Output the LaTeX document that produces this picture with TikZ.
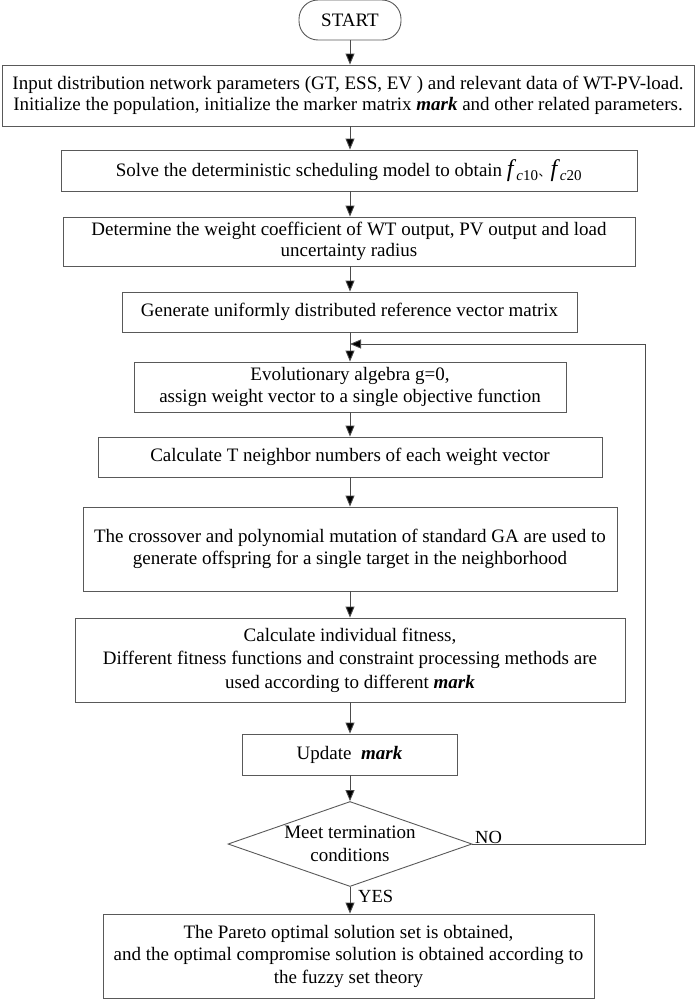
\documentclass[tikz,border=0pt]{standalone}
\usepackage{fontspec}
\setmainfont{Liberation Serif}
\newfontfamily\cjk{Noto Sans CJK SC}
\usetikzlibrary{arrows.meta,shapes.geometric}
\begin{document}
\begin{tikzpicture}[x=1pt,y=-1pt,
  every node/.style={font=\fontsize{19}{22.5}\selectfont},
  box/.style={draw=black!65, line width=0.9pt, rectangle, inner sep=0pt, align=center, anchor=center},
  stadium/.style={draw=black!65, line width=0.9pt, rectangle, rounded corners=19pt, inner sep=0pt, minimum width=102pt, minimum height=40pt},
  decision/.style={draw=black!65, line width=0.9pt, diamond, shape aspect=2.87, inner sep=0pt, minimum width=244pt, minimum height=85pt, align=center},
  flow/.style={draw=black!70, line width=0.9pt, -{Triangle[length=11pt,width=9pt,fill=black]}},
  lab/.style={font=\fontsize{18.5}{20}\selectfont, inner sep=0pt}
]
\useasboundingbox (0,0) rectangle (699,999);
\newcommand{\mk}{\textbf{\textit{mark}}}
\newcommand{\fc}[1]{\textit{\fontsize{24}{24}\selectfont f}\textsubscript{\fontsize{15}{15}\selectfont\textit{c}#1}}
\node[stadium] (start) at (350,20) {START};
\node[box, minimum width=692pt, minimum height=61pt, font=\fontsize{19}{20.5}\selectfont] (b1) at (348,95.5)
  {Input distribution network parameters (GT, ESS, EV ) and relevant data of WT-PV-load.\\
   Initialize the population, initialize the marker matrix \mk{} and other related parameters.};
\node[box, minimum width=576pt, minimum height=41pt] (b2) at (349,170.5)
  {Solve the deterministic scheduling model to obtain \fc{10}{\cjk\fontsize{12}{12}\selectfont 、}\fc{20}};
\node[box, minimum width=572pt, minimum height=49pt, font=\fontsize{19}{20.5}\selectfont] (b3) at (349,241.5)
  {Determine the weight coefficient of WT output, PV output and load\\uncertainty radius};
\node[box, minimum width=455pt, minimum height=40pt] (b4) at (349.5,312)
  {Generate uniformly distributed reference vector matrix};
\node[box, minimum width=432pt, minimum height=50pt] (b5) at (350,387)
  {Evolutionary algebra g=0,\\assign weight vector to a single objective function};
\node[box, minimum width=504pt, minimum height=40pt] (b6) at (350,457)
  {Calculate T neighbor numbers of each weight vector};
\node[box, minimum width=534pt, minimum height=84pt] (b7) at (350,549)
  {The crossover and polynomial mutation of standard GA are used to\\generate offspring for a single target in the neighborhood};
\node[box, minimum width=550pt, minimum height=84pt, font=\fontsize{19}{23.5}\selectfont] (b8) at (350,660)
  {Calculate individual fitness,\\Different fitness functions and constraint processing methods are\\used according to different \mk};
\node[box, minimum width=215pt, minimum height=41pt] (b9) at (349.5,754.5)
  {Update\ \ \mk};
\node[decision] (dia) at (350,844) {Meet termination\\conditions};
\node[box, minimum width=491pt, minimum height=84pt] (b10) at (348.5,956)
  {The Pareto optimal solution set is obtained,\\and the optimal compromise solution is obtained according to\\the fuzzy set theory};
\coordinate (loopc) at (645,844);
\coordinate (loopin) at (350,344);
\draw[flow] (start.south) -- (start.south |- b1.north);
\draw[flow] (b1.south -| start.south) -- (start.south |- b2.north);
\draw[flow] (b2.south -| start.south) -- (start.south |- b3.north);
\draw[flow] (b3.south -| start.south) -- (start.south |- b4.north);
\draw[flow] (b4.south -| start.south) -- (start.south |- b5.north);
\draw[flow] (b5.south -| start.south) -- (start.south |- b6.north);
\draw[flow] (b6.south -| start.south) -- (start.south |- b7.north);
\draw[flow] (b7.south -| start.south) -- (start.south |- b8.north);
\draw[flow] (b8.south -| start.south) -- (start.south |- b9.north);
\draw[flow] (b9.south -| start.south) -- (dia.north);
\draw[flow] (dia.south) -- (dia.south |- b10.north);
\draw[flow] (dia.east) -- (loopc) |- (loopin);
\node[lab, anchor=west] (no) at (475,837) {NO};
\node[lab, anchor=west] (yes) at (358,896) {YES};
\end{tikzpicture}
\end{document}
